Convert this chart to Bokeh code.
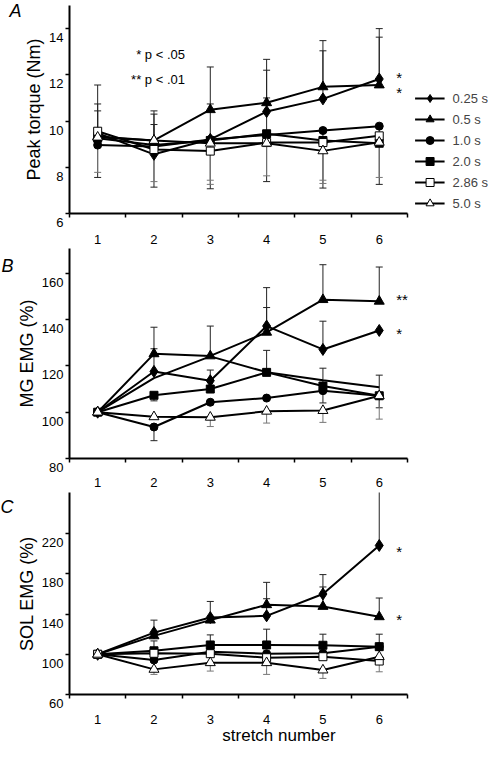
import numpy as np
from bokeh.plotting import figure
from bokeh.layouts import column
from bokeh.models import FixedTicker, Legend, LegendItem, Label, Range1d
from bokeh.core.properties import value
from bokeh.embed import file_html
from bokeh.resources import INLINE

FONT = "Liberation Sans"

stretch = [1, 2, 3, 4, 5, 6]
durations = ["0.25 s", "0.5 s", "1.0 s", "2.0 s", "2.86 s", "5.0 s"]

# ---------- Panel A: peak torque (Nm) ----------
torque_025 = [9.48, 8.56, 9.21, 10.41, 10.96, 11.82]
torque_05 = [9.33, 9.16, 10.49, 10.79, 11.48, 11.56]
torque_10 = [8.96, 8.90, 9.20, 9.40, 9.59, 9.78]
torque_20 = [9.26, 8.96, 9.16, 9.45, 9.16, 9.04]
torque_286 = [9.56, 8.77, 8.70, 9.07, 9.07, 9.36]
torque_50 = [9.30, 9.16, 9.04, 9.04, 8.71, 9.08]
torque_up = {
    "0.25 s": [2.08, 1.88, 1.53, 1.79, 2.08, 2.18],
    "0.5 s": [1.41, 1.14, 1.85, 1.88, 2.00, 2.07],
    "2.0 s": [1.18, 0.89, 0.00, 1.55, 0.00, 0.00],
}
torque_dn = {
    "1.0 s": [1.40, 1.76, 2.13, 2.02, 2.49, 2.52],
    "2.86 s": [0.00, 0.00, 1.26, 0.00, 1.63, 0.00],
    "5.0 s": [1.52, 1.78, 1.78, 1.41, 1.41, 1.52],
}
torque_ticks = [6, 8, 10, 12, 14]

# ---------- Panel B: MG EMG (%) ----------
mg_025 = [100, 117.6, 113.6, 137.2, 127.1, 135.3]
mg_05 = [100, 125.2, 124.3, 134.5, 148.6, 147.9]
mg_10 = [100, 93.6, 104.3, 106.1, 109.3, 107.1]
mg_20 = [100, 107.3, 110.0, 117.2, 111.3, 107.1]
mg_286 = [100, 114.7, 124.1, 117.3, 113.8, 110.8]
mg_50 = [100, 98.0, 97.8, 100.4, 100.7, 107.1]
mg_up = {
    "0.25 s": [0, 9.8, 4.6, 16.6, 12.2, 0],
    "0.5 s": [0, 11.5, 12.9, 10.7, 15.1, 14.8],
    "2.0 s": [0, 0, 0, 9.5, 7.7, 8.9],
}
mg_dn = {
    "1.0 s": [0, 5.9, 0, 0, 5.3, 5.2],
    "2.0 s": [0, 2.4, 0, 0, 0, 0],
    "5.0 s": [0, 0, 4.0, 5.1, 5.1, 10.1],
}
mg_ticks = [80, 100, 120, 140, 160]

# ---------- Panel C: SOL EMG (%) ----------
sol_025 = [100, 121.6, 136.6, 138.3, 160.0, 208.3]
sol_05 = [100, 118.3, 134.0, 149.3, 147.6, 137.3]
sol_10 = [100, 94.3, 102.5, 100.6, 101.0, 107.6]
sol_20 = [100, 103.5, 109.3, 109.3, 109.0, 107.6]
sol_286 = [100, 101.0, 100.6, 96.6, 97.6, 93.3]
sol_50 = [100, 85.0, 91.6, 91.6, 84.3, 97.6]
sol_up = {
    "0.25 s": [0, 12.4, 16.0, 17.0, 19.3, 53.7],
    "0.5 s": [0, 0, 0, 22.3, 19.4, 18.7],
    "2.0 s": [0, 9.8, 10.0, 15.7, 11.0, 12.4],
}
sol_dn = {
    "2.86 s": [0, 0, 0, 0, 0, 10.7],
    "5.0 s": [0, 5.0, 8.3, 11.6, 8.3, 0],
}
sol_ticks = [60, 100, 140, 180, 220]

# significance marks (text, y position) per panel
sig_A = [("*", 12.05), ("*", 11.4)]
sig_B = [("**", 150.2), ("*", 135.6)]
sig_C = [("*", 206.7), ("*", 139.0)]

styles = {
    "0.25 s": dict(marker="diamond", size=12, fill="black"),
    "0.5 s": dict(marker="triangle", size=10, fill="black"),
    "1.0 s": dict(marker="circle", size=8, fill="black"),
    "2.0 s": dict(marker="square", size=8, fill="black"),
    "2.86 s": dict(marker="square", size=8, fill="white"),
    "5.0 s": dict(marker="triangle", size=10, fill="white"),
}

X_END = 7.94  # frame extends right so the legend sits inside it


def make_fig(height, yr, yticks, ylabel, top, lab_standoff, xlabel=None):
    p = figure(width=488, height=height, output_backend="svg", toolbar_location=None,
               x_range=Range1d(0.5, X_END), y_range=Range1d(*yr),
               min_border_left=40, min_border_right=0, min_border_top=top,
               min_border_bottom=10)
    p.outline_line_color = None
    p.xgrid.visible = False
    p.ygrid.visible = False
    minor = [s - 0.5 for s in stretch] + [stretch[-1] + 0.5]
    p.xaxis.ticker = FixedTicker(ticks=stretch, minor_ticks=minor)
    p.xaxis.bounds = (minor[0], minor[-1])
    p.yaxis.ticker = FixedTicker(ticks=yticks)
    p.yaxis.major_label_overrides = {t: "\n" + str(t) for t in yticks}
    for ax in (p.xaxis[0], p.yaxis[0]):
        ax.axis_line_width = 2
        ax.axis_line_color = "black"
        ax.major_label_text_font = FONT
        ax.major_label_text_font_size = "13px"
        ax.major_label_text_color = "black"
        ax.axis_label_text_font = FONT
        ax.axis_label_text_font_style = "normal"
        ax.axis_label_text_color = "black"
    p.xaxis.major_tick_out = 0
    p.xaxis.major_tick_in = 0
    p.xaxis.minor_tick_out = 4
    p.xaxis.minor_tick_in = 0
    p.xaxis.minor_tick_line_width = 1.5
    p.xaxis.major_label_standoff = lab_standoff
    p.yaxis.major_tick_out = 4
    p.yaxis.major_tick_in = 0
    p.yaxis.major_tick_line_width = 1.5
    p.yaxis.minor_tick_line_color = None
    p.yaxis.major_label_standoff = 2
    p.yaxis.axis_label = ylabel
    p.yaxis.axis_label_text_font_size = "18px"
    p.yaxis.axis_label_standoff = 2
    if xlabel:
        p.xaxis.axis_label = xlabel
        p.xaxis.axis_label_text_font_size = "17px"
        p.xaxis.axis_label_text_line_height = 1.0
        p.xaxis.axis_label_standoff = -1
    return p


def errbars(p, vals, up, dn, color):
    x = np.array(stretch, dtype=float)
    y = np.array(vals, dtype=float)
    for e, sign in ((up, 1), (dn, -1)):
        if e is None:
            continue
        e = np.array(e, dtype=float)
        m = e > 0
        if not m.any():
            continue
        yy = y[m] + sign * e[m]
        p.segment(x0=x[m], y0=y[m], x1=x[m], y1=yy, line_color=color, line_width=1)
        p.dash(x=x[m], y=yy, size=7, line_color=color, line_width=1)


def draw_panel(p, series, ups, dns, sig, markerless=()):
    for name in durations:
        col = "#777777" if styles[name]["fill"] == "white" else "#222222"
        errbars(p, series[name], ups.get(name), dns.get(name), col)
    renderers = {}
    for name in durations:
        lr = p.line(stretch, series[name], line_color="black", line_width=2)
        renderers[name] = [lr]
    for name in durations:
        if name in markerless:
            continue
        st = styles[name]
        mr = p.scatter(stretch, series[name], marker=st["marker"], size=st["size"],
                       fill_color=st["fill"], line_color="black", line_width=1)
        renderers[name].append(mr)
    xs = [stretch[-1] + 0.3] * len(sig)
    p.text(x=xs, y=[s[1] for s in sig], text=[s[0] for s in sig],
           text_font=value(FONT), text_font_size="15px", text_baseline="middle",
           text_align="left", y_offset=4, text_color="black")
    return renderers


def panel_letter(p, letter, y):
    p.add_layout(Label(x=0, y=y, x_units="screen", y_units="screen", text=letter,
                       text_font=FONT, text_font_style="italic", text_font_size="18px",
                       text_color="black", text_baseline="middle"), "left")


# ---- Panel A
pA = make_fig(246, (6, 15), torque_ticks, "Peak torque (Nm)", 5, 17)
ser_A = dict(zip(durations, [torque_025, torque_05, torque_10, torque_20, torque_286, torque_50]))
rA = draw_panel(pA, ser_A, torque_up, torque_dn, sig_A)
legend = Legend(items=[LegendItem(label=n, renderers=rA[n]) for n in durations],
                location="bottom_right", margin=0, padding=0, spacing=1,
                glyph_width=30, glyph_height=20, label_height=20, label_standoff=8,
                label_text_font=FONT, label_text_font_size="13px",
                border_line_color=None, background_fill_alpha=0)
pA.add_layout(legend)
pA.add_layout(Label(x=2.55, y=12.9, text="* p < .05", text_font=FONT, text_font_size="13px",
                    text_align="right", text_baseline="middle", text_color="black"))
pA.add_layout(Label(x=2.55, y=11.78, text="** p < .01", text_font=FONT, text_font_size="13px",
                    text_align="right", text_baseline="middle", text_color="black"))
panel_letter(pA, "A", 203)

# ---- Panel B
pB = make_fig(243, (80, 170.7), mg_ticks, "MG EMG (%)", 2, 15)
ser_B = dict(zip(durations, [mg_025, mg_05, mg_10, mg_20, mg_286, mg_50]))
draw_panel(pB, ser_B, mg_up, mg_dn, sig_B, markerless=("2.86 s",))
panel_letter(pB, "B", 193)

# ---- Panel C
pC = make_fig(258, (60, 261), sol_ticks, "SOL EMG (%)", 3, 16, xlabel="stretch number")
ser_C = dict(zip(durations, [sol_025, sol_05, sol_10, sol_20, sol_286, sol_50]))
draw_panel(pC, ser_C, sol_up, sol_dn, sig_C)
panel_letter(pC, "C", 188)

layout = column(pA, pB, pC, spacing=0)
open("out.html", "w").write(file_html(layout, INLINE))
